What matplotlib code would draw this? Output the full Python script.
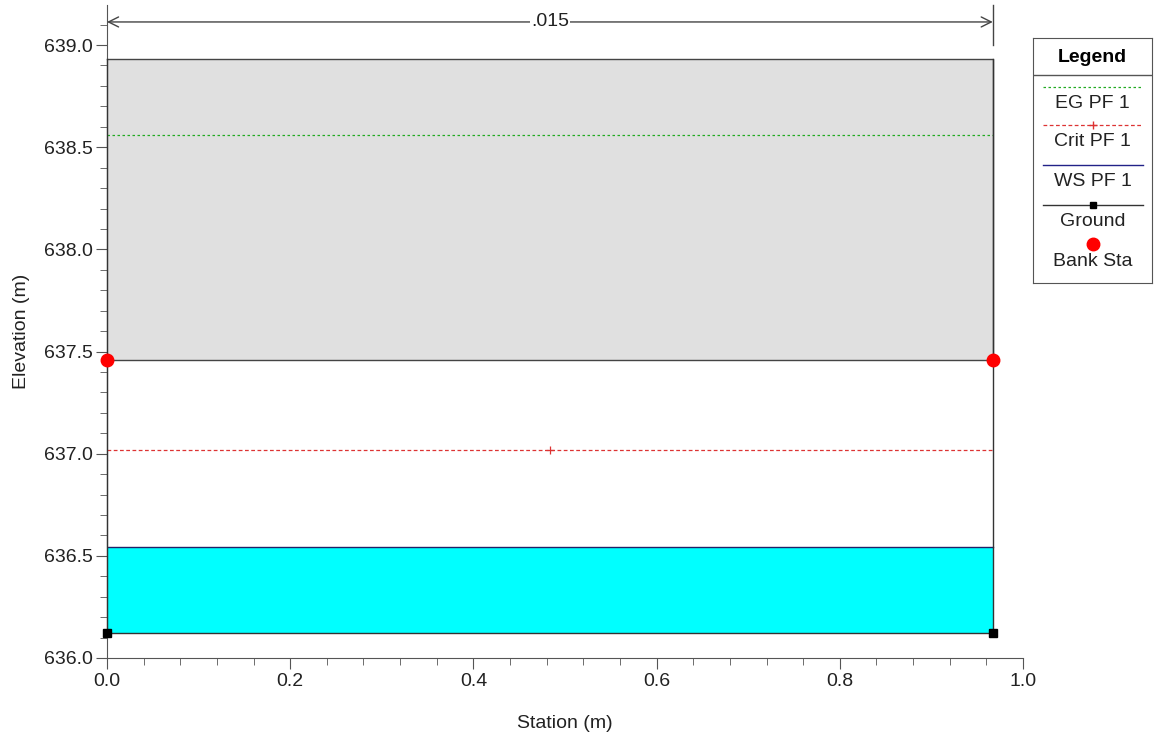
import matplotlib.pyplot as plt
from matplotlib.ticker import MultipleLocator

plt.rcParams['font.family'] = ['Liberation Sans', 'DejaVu Sans']

# cross section data
ground_sta = [0.0, 0.0, 0.967, 0.967]
ground_elev = [638.93, 636.12, 636.12, 638.93]
lid_bottom = 637.46
lid_top = 638.93
bank_sta = [0.0, 0.967]
bank_elev = [637.46, 637.46]
ws_elev = 636.545
crit_elev = 637.02
crit_mark_sta = 0.484
eg_elev = 638.56
mann_n = ".015"
mann_sta = [0.0, 0.967]
mann_elev = 639.113

legend_labels = ["EG PF 1", "Crit PF 1", "WS PF 1", "Ground", "Bank Sta"]

fig = plt.figure(figsize=(11.55, 7.37), dpi=100)
W, H = 1155, 737
ax = fig.add_axes([107 / W, 1 - 658 / H, (1023 - 107) / W, (658 - 5) / H])

x0, x1 = ground_sta[1], ground_sta[2]
# water fill
ax.fill_between([x0, x1], ground_elev[1], ws_elev, color='#00ffff', lw=0, zorder=1)
# grey lid block
ax.fill_between([x0, x1], lid_bottom, lid_top, color='#e0e0e0', lw=0, zorder=1)
ax.plot([x0, x1, x1, x0], [lid_bottom, lid_bottom, lid_top, lid_top], color='#444444', lw=1, zorder=2, clip_on=False)

# EG, crit, WS
ax.plot([x0, x1], [eg_elev, eg_elev], color='#22aa22', lw=0.9, ls=(0, (2, 2)), zorder=3)
ax.plot([x0, x1], [crit_elev, crit_elev], color='#dd3333', lw=0.9, ls=(0, (3, 2)), zorder=3)
ax.plot([crit_mark_sta], [crit_elev], marker='+', color='#dd3333', ms=6, mew=0.9, zorder=3)
ax.plot([x0, x1], [ws_elev, ws_elev], color='#222266', lw=1, zorder=3)

# ground
ax.plot(ground_sta, ground_elev, color='#333333', lw=1, zorder=4, clip_on=False)
ax.plot([ground_sta[1], ground_sta[2]], [ground_elev[1], ground_elev[2]], ls='none',
        marker='s', color='black', ms=6, zorder=5, clip_on=False)
ax.plot(bank_sta, bank_elev, ls='none', marker='o', color='#ff0000', ms=9, zorder=6, clip_on=False)

# manning's n annotation
ax.annotate('', xy=(mann_sta[0], mann_elev), xytext=(mann_sta[1], mann_elev),
            arrowprops=dict(arrowstyle='<->', color='#444444', lw=1, shrinkA=0, shrinkB=0,
                            mutation_scale=18))
ax.text((mann_sta[0] + mann_sta[1]) / 2, mann_elev, mann_n, ha='center', va='center',
        fontsize=14, color='#222222', bbox=dict(facecolor='white', edgecolor='none', pad=1))
ax.plot([mann_sta[1], mann_sta[1]], [639.0, 639.196], color='#444444', lw=1, clip_on=False)

ax.set_xlim(0, 1.0)
ax.set_ylim(636.0, 639.196)
ax.xaxis.set_major_locator(MultipleLocator(0.2))
ax.xaxis.set_minor_locator(MultipleLocator(0.04))
ax.yaxis.set_major_locator(MultipleLocator(0.5))
ax.yaxis.set_minor_locator(MultipleLocator(0.1))
ax.xaxis.set_major_formatter(plt.FormatStrFormatter('%.1f'))
ax.yaxis.set_major_formatter(plt.FormatStrFormatter('%.1f'))
for s in ['top', 'right']:
    ax.spines[s].set_visible(False)
for s in ['left', 'bottom']:
    ax.spines[s].set_color('#555555')
ax.tick_params(which='major', length=8, pad=2, color='#555555', labelsize=14, labelcolor='#222222')
ax.tick_params(axis='x', which='major', pad=3)
ax.tick_params(which='minor', length=5, color='#555555')
ax.set_xlabel('Station (m)', fontsize=14, color='#222222', labelpad=18)
ax.set_ylabel('Elevation (m)', fontsize=14, color='#222222', labelpad=10)

# legend box drawn in pixel space
lx0, lx1, ly0, ly1 = 1033, 1152, 38, 283
lax = fig.add_axes([lx0 / W, 1 - ly1 / H, (lx1 - lx0) / W, (ly1 - ly0) / H])
lax.set_xlim(lx0, lx1)
lax.set_ylim(ly1, ly0)
lax.set_xticks([])
lax.set_yticks([])
for s in lax.spines.values():
    s.set_color('#555555')
lax.text((lx0 + lx1) / 2, 57, 'Legend', ha='center', va='center', fontsize=14, fontweight='bold')
lax.plot([lx0, lx1], [75, 75], color='#555555', lw=1)
cx = (lx0 + lx1) / 2
lax.plot([1043, 1143], [87, 87], color='#22aa22', lw=0.9, ls=(0, (2, 2)))
lax.plot([1043, 1143], [125, 125], color='#dd3333', lw=0.9, ls=(0, (3, 2)))
lax.plot([cx], [125], marker='+', color='#dd3333', ms=6)
lax.plot([1043, 1143], [165, 165], color='#222288', lw=1)
lax.plot([1043, 1143], [205, 205], color='#333333', lw=1)
lax.plot([cx], [205], marker='s', color='black', ms=5)
lax.plot([cx], [244], marker='o', color='#ff0000', ms=9)
for lab, yy in zip(legend_labels, [103, 142, 182, 222, 262]):
    lax.text(cx, yy, lab, ha='center', va='center', fontsize=14, color='#222222')

fig.savefig('out.png', dpi=100)
